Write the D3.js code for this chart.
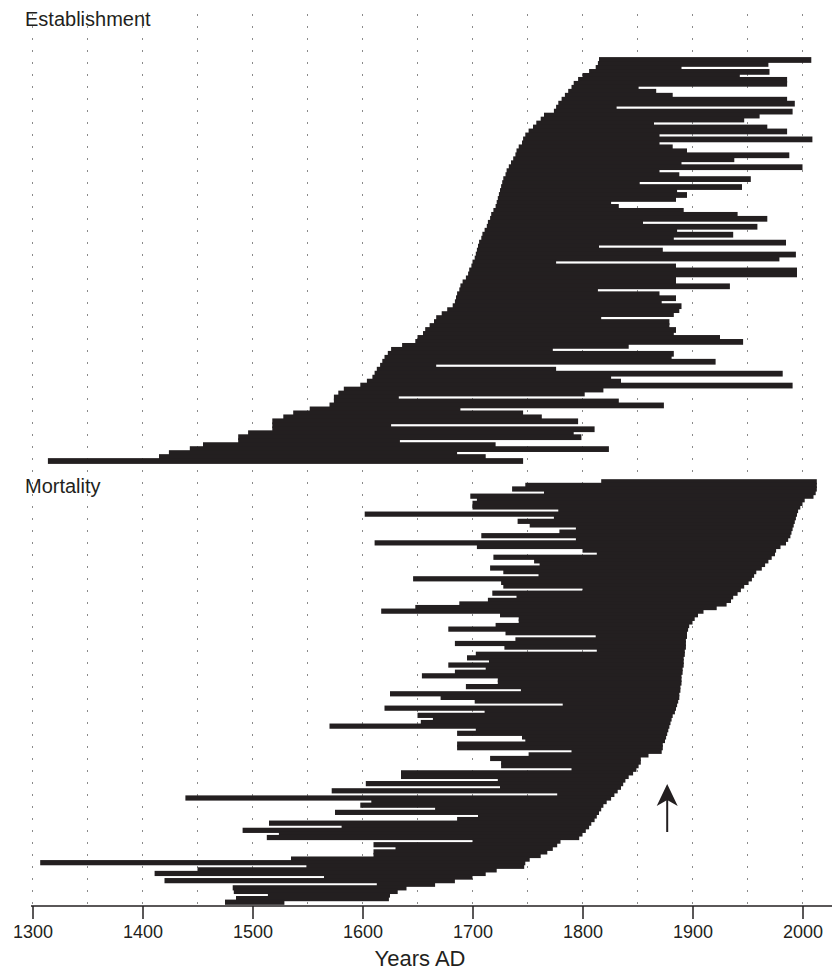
<!DOCTYPE html>
<html>
<head>
<meta charset="utf-8">
<script src="https://cdn.jsdelivr.net/npm/d3@7"></script>
<style>
  html, body { margin: 0; padding: 0; background: #fff; }
  svg { display: block; }
  text { font-family: "Liberation Sans", Arial, Helvetica, sans-serif; fill: #231f20; }
</style>
</head>
<body>
<svg id="chart" width="832" height="973"></svg>
<script>
// Tree lifespans: each row is one tree, from establishment year to death year.
// Upper panel ordered by establishment year, lower panel by death year (rows listed top to bottom).

const estStart = [
  1815,1814,1812,1806,1800,1796,1792,1790,1787,1784,
  1781,1778,1776,1774,1765,1762,1758,1755,1751,1748,
  1746,1745,1742,1740,1739,1737,1735,1733,1731,1730,
  1728,1727,1726,1725,1724,1723,1722,1721,1719,1717,
  1716,1714,1713,1711,1709,1708,1706,1705,1704,1703,
  1702,1700,1699,1697,1696,1694,1691,1689,1688,1686,
  1685,1684,1682,1677,1672,1667,
  1665,1661,1657,1655,1650,1648,1636,1626,1623,1620,
  1618,1616,1613,1611,1609,1604,1598,1583,1578,1574,
  1574,1570,1552,1537,1528,1518,1518,1518,1496,1487,
  1487,1455,1443,1424,1415,1314
];
const estEnd = [
  2008,1969,1890,1970,1943,1986,1986,1851,1867,1882,
  1986,1993,1831,1991,1961,1947,1865,1968,1986,1870,
  2009,1870,1882,1895,1988,1938,1890,2000,1870,1888,
  1953,1852,1945,1886,1895,1885,1826,1833,1892,1941,
  1968,1855,1959,1886,1937,1883,1985,1815,1873,1994,
  1979,1776,1885,1995,1995,1885,1885,1934,1814,1870,
  1885,1872,1890,1888,1883,1817,
  1879,1879,1885,1883,1925,1946,1842,1773,1883,1881,
  1921,1667,1776,1982,1826,1835,1991,1819,1802,1633,
  1833,1874,1689,1746,1763,1796,1626,1811,1792,1799,
  1634,1721,1824,1686,1712,1746
];

const morStart = [
  1817,1748,1736,1765,1698,1704,1700,1700,1778,1602,
  1774,1741,1752,1794,1779,1708,1794,1611,1704,1800,
  1813,1719,1756,1761,1716,1728,1760,1646,1726,1728,
  1800,1718,1740,1714,1688,1648,1617,1725,
  1742,1742,1721,1678,1730,1812,1739,1684,1729,1813,
  1703,1695,1715,1678,1712,1684,1654,1723,1723,1694,
  1744,1625,1671,1702,1782,1620,1711,1650,1664,1653,
  1570,1703,1686,1745,1748,1686,1686,1790,1751,1716,
  1726,1726,1790,1635,1635,1723,1603,1725,1572,1777,
  1439,1608,1598,1666,1575,1705,1686,1515,1581,1491,
  1524,1513,1700,1610,1630,1610,1610,1535,1307,1549,
  1450,1411,1565,1420,1613,1482,1483,1514,1485,1475
];
const morEnd = [
  2013,2013,2013,2012,2010,2002,2000,1998,1996,1995,
  1994,1993,1992,1991,1990,1989,1987,1985,1980,1976,
  1975,1972,1969,1966,1963,1958,1956,1954,1951,1947,
  1944,1941,1937,1935,1931,1922,1910,1905,
  1902,1900,1897,1896,1895,1895,1894,1894,1894,1893,
  1893,1892,1892,1892,1891,1891,1890,1890,1890,1889,
  1889,1888,1888,1887,1886,1885,1884,1882,1881,1880,
  1879,1878,1877,1876,1875,1873,1873,1872,1860,1853,
  1853,1851,1849,1846,1842,1839,1837,1835,1832,1829,
  1826,1822,1819,1817,1815,1813,1811,1808,1806,1803,
  1800,1797,1780,1777,1773,1768,1762,1752,1748,1747,
  1722,1712,1700,1684,1666,1640,1632,1625,1624,1529
];

const tickYears = [1300, 1400, 1500, 1600, 1700, 1800, 1900, 2000];
const gridYears = [1300, 1350, 1400, 1450, 1500, 1550, 1600, 1650, 1700, 1750, 1800, 1850, 1900, 1950, 2000];
const arrowYear = 1877;

const ink = "#231f20";
const svg = d3.select("#chart");
const x = d3.scaleLinear().domain([1300, 2000]).range([32.5, 802.5]);
const axisY = 906;

// dotted vertical guides every 50 years
svg.append("g").selectAll("line").data(gridYears).join("line")
  .attr("x1", d => x(d)).attr("x2", d => x(d))
  .attr("y1", 14).attr("y2", axisY)
  .attr("stroke", "#8a8a8a").attr("stroke-width", 1)
  .attr("stroke-dasharray", "2,10");

function panel(starts, ends, top, bottom, label, labelY) {
  const rows = starts.map((s, i) => ({ i, start: s, end: ends[i] }));
  const y = d3.scaleBand().domain(d3.range(rows.length)).range([top, bottom]).padding(0);
  const bw = y.bandwidth();
  const over = bw * 0.45;
  const g = svg.append("g");
  g.selectAll("rect").data(rows).join("rect")
    .attr("x", d => x(d.start))
    .attr("width", d => x(d.end) - x(d.start))
    .attr("y", d => y(d.i) - over / 2)
    .attr("height", bw + over)
    .attr("fill", ink);
  svg.append("text").attr("x", 25).attr("y", labelY)
    .attr("font-size", 20).text(label);
}

panel(estStart, estEnd, 58, 463, "Establishment", 26);
panel(morStart, morEnd, 480, 904, "Mortality", 493);

// x axis
svg.append("line").attr("x1", 31).attr("x2", 832).attr("y1", axisY).attr("y2", axisY)
  .attr("stroke", ink).attr("stroke-width", 1.5);
const ax = svg.append("g").attr("transform", `translate(0,${axisY})`)
  .call(d3.axisBottom(x).tickValues(tickYears).tickFormat(d3.format("d"))
    .tickSizeInner(13).tickSizeOuter(0).tickPadding(6));
ax.select(".domain").remove();
ax.selectAll(".tick line").attr("stroke", ink).attr("stroke-width", 1.5);
ax.selectAll(".tick text").attr("font-size", 18).attr("fill", ink)
  .style("font-family", '"Liberation Sans", Arial, Helvetica, sans-serif');

svg.append("text").attr("x", 420).attr("y", 966).attr("text-anchor", "middle")
  .attr("font-size", 22).text("Years AD");

// arrow marking the mortality pulse
const ax0 = x(arrowYear);
svg.append("line").attr("x1", ax0).attr("x2", ax0).attr("y1", 832).attr("y2", 800)
  .attr("stroke", ink).attr("stroke-width", 2);
svg.append("path")
  .attr("d", `M${ax0},784 L${ax0 - 10.5},806 L${ax0},800 L${ax0 + 10.5},806 Z`)
  .attr("fill", ink);
</script>
</body>
</html>
